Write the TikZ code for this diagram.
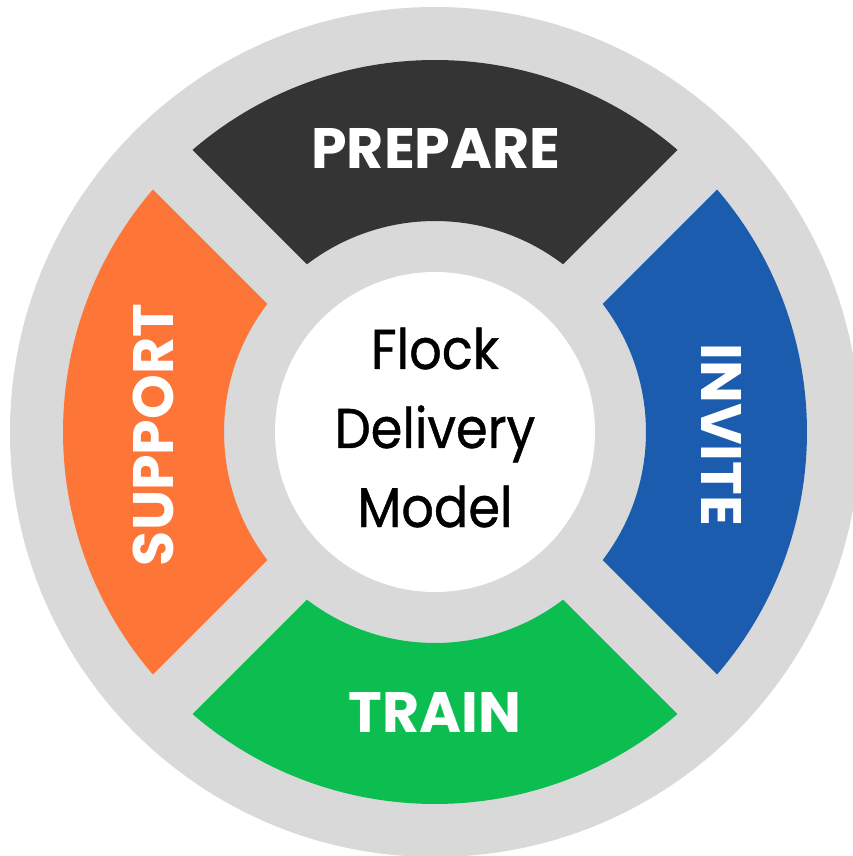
\documentclass[tikz,border=0pt]{standalone}
\usepackage{fontspec}
\setmainfont{Poppins}
\newfontfamily\hubfont{Poppins}[FakeStretch=0.91, FakeBold=0.8]
\definecolor{ringgray}{HTML}{D9D9D9}
\definecolor{prepcol}{HTML}{343434}
\definecolor{supcol}{HTML}{FD7537}
\definecolor{traincol}{HTML}{0CBE50}
\definecolor{invcol}{HTML}{1C5CAE}
\begin{document}
\begin{tikzpicture}[x=1pt,y=1pt,
  seglabel/.style={text=white, font=\bfseries\fontsize{57}{57}\selectfont, inner sep=0pt},
  centertext/.style={text=black, font=\hubfont\fontsize{56}{56}\selectfont, inner sep=0pt, anchor=base}]
\clip (-435,-424) rectangle (418,432);
\useasboundingbox (-435,-424) rectangle (418,432);
\fill[ringgray] (0,0) circle[radius=425pt];
\foreach \ang/\col in {0/prepcol, 90/supcol, 180/traincol, 270/invcol}{
  \fill[\col] ({49.32+\ang}:372pt) arc[start angle={49.32+\ang}, end angle={130.68+\ang}, radius=372pt]
    -- ({127.37+\ang}:211pt) arc[start angle={127.37+\ang}, end angle={52.63+\ang}, radius=211pt] -- cycle;
}
\node[circle, fill=white, minimum size=320pt, inner sep=0pt] (hub) at (0,0) {};
\node[centertext] (flock) at (0,63) {Flock};
\node[centertext] (delivery) at (0,-16) {Delivery};
\node[centertext] (model) at (0,-95) {Model};
\node[seglabel] (prepare) at (1,284) {PREPARE};
\node[seglabel] (train) at (0,-280) {TRAIN};
\node[seglabel, rotate=90] (support) at (-282,-3) {SUPPORT};
\node[seglabel, rotate=-90] (invite) at (287,-3) {INVITE};
\end{tikzpicture}
\end{document}
